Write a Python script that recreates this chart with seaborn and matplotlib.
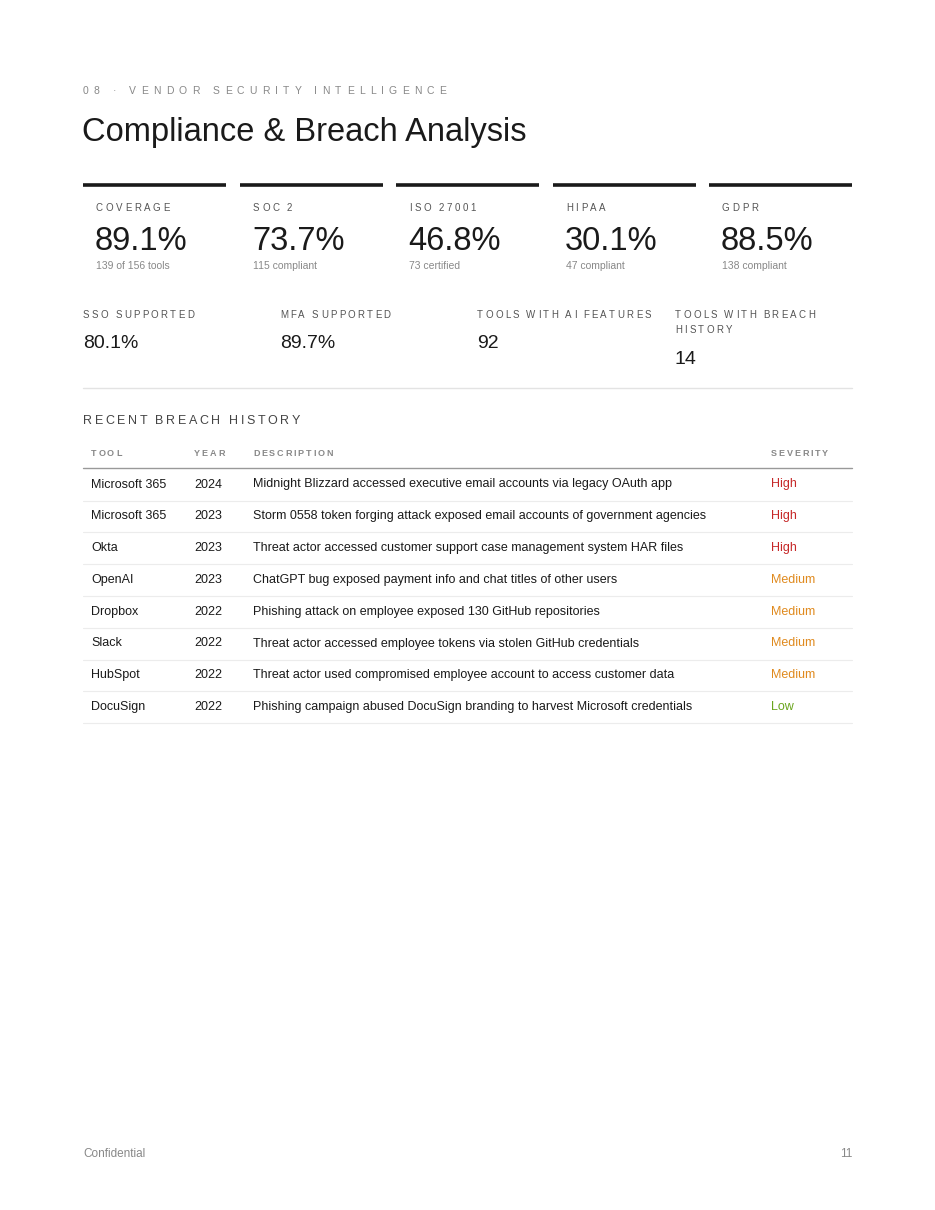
import matplotlib
matplotlib.use("Agg")
import matplotlib.pyplot as plt
import seaborn as sns

# KPI cards
kpi_labels = ["COVERAGE", "SOC 2", "ISO 27001", "HIPAA", "GDPR"]
kpi_values = ["89.1%", "73.7%", "46.8%", "30.1%", "88.5%"]
kpi_subs = ["139 of 156 tools", "115 compliant", "73 certified", "47 compliant", "138 compliant"]

# secondary stats
stat_labels = [["SSO SUPPORTED"], ["MFA SUPPORTED"], ["TOOLS WITH AI FEATURES"], ["TOOLS WITH BREACH", "HISTORY"]]
stat_values = ["80.1%", "89.7%", "92", "14"]

# breach table
columns = ["TOOL", "YEAR", "DESCRIPTION", "SEVERITY"]
tools = ["Microsoft 365", "Microsoft 365", "Okta", "OpenAI", "Dropbox", "Slack", "HubSpot", "DocuSign"]
years = ["2024", "2023", "2023", "2023", "2022", "2022", "2022", "2022"]
descriptions = [
    "Midnight Blizzard accessed executive email accounts via legacy OAuth app",
    "Storm 0558 token forging attack exposed email accounts of government agencies",
    "Threat actor accessed customer support case management system HAR files",
    "ChatGPT bug exposed payment info and chat titles of other users",
    "Phishing attack on employee exposed 130 GitHub repositories",
    "Threat actor accessed employee tokens via stolen GitHub credentials",
    "Threat actor used compromised employee account to access customer data",
    "Phishing campaign abused DocuSign branding to harvest Microsoft credentials",
]
severity = ["High", "High", "High", "Medium", "Medium", "Medium", "Medium", "Low"]
sev_colors = {"High": "#c62828", "Medium": "#e08a1e", "Low": "#6aa51e"}

sns.set_theme(style="white")
plt.rcParams['font.family'] = ['Liberation Sans', 'DejaVu Sans']

fig = plt.figure(figsize=(9.35, 12.10), dpi=100)
ax = fig.add_axes([0, 0, 1, 1])
ax.set_xlim(0, 935)
ax.set_ylim(1210, 0)
ax.axis("off")
renderer = fig.canvas.get_renderer()


def spaced(x, y, s, size, color, spacing, weight="normal"):
    """texte avec espacement des lettres"""
    for ch in s:
        t = ax.text(x, y, ch, fontsize=size, color=color, va="center", ha="left", fontweight=weight)
        w = t.get_window_extent(renderer).width if ch != " " else size * 0.35
        x += w + spacing


TEXT = "#1a1a1a"
GREY = "#888888"

spaced(83, 91, "08 · VENDOR SECURITY INTELLIGENCE", 7.5, GREY, 5.2)
ax.text(82, 132, "Compliance & Breach Analysis", fontsize=23.5, color=TEXT, va="center")

card_x = [83, 240, 396, 553, 709]
for x, lab, val, sub in zip(card_x, kpi_labels, kpi_values, kpi_subs):
    ax.plot([x, x + 143], [185, 185], color="#1a1a1a", lw=2.6, solid_capstyle="butt")
    spaced(x + 13, 208, lab, 7, "#555555", 2.6)
    ax.text(x + 12, 241, val, fontsize=23.5, color=TEXT, va="center")
    ax.text(x + 13, 266, sub, fontsize=7.5, color=GREY, va="center")

stat_x = [83, 280, 477, 675]
for x, labs, val in zip(stat_x, stat_labels, stat_values):
    for i, lab in enumerate(labs):
        spaced(x, 315 + 15 * i, lab, 7, "#555555", 2.3)
    ax.text(x, 344 + 15 * (len(labs) - 1), val, fontsize=14, color=TEXT, va="center")

ax.plot([83, 852], [388, 388], color="#e3e3e3", lw=1)
spaced(83, 421, "RECENT BREACH HISTORY", 9, "#444444", 2.6)

col_x = [91, 194, 253, 771]
for x, c in zip(col_x, columns):
    spaced(x, 453, c, 6.5, GREY, 1.8, weight="bold")
ax.plot([83, 852], [468, 468], color="#999999", lw=1)

for i in range(len(tools)):
    y = 484.5 + i * 31.8
    ax.text(col_x[0], y, tools[i], fontsize=9, color=TEXT, va="center")
    ax.text(col_x[1], y, years[i], fontsize=9, color=TEXT, va="center")
    ax.text(col_x[2], y, descriptions[i], fontsize=9, color=TEXT, va="center")
    ax.text(col_x[3], y, severity[i], fontsize=9, color=sev_colors[severity[i]], va="center")
    ax.plot([83, 852], [y + 16, y + 16], color="#ececec", lw=0.8)

ax.text(83, 1154, "Confidential", fontsize=8.5, color=GREY, va="center")
ax.text(852, 1154, "11", fontsize=8.5, color=GREY, va="center", ha="right")

fig.savefig("out.png", dpi=100, facecolor="white")
